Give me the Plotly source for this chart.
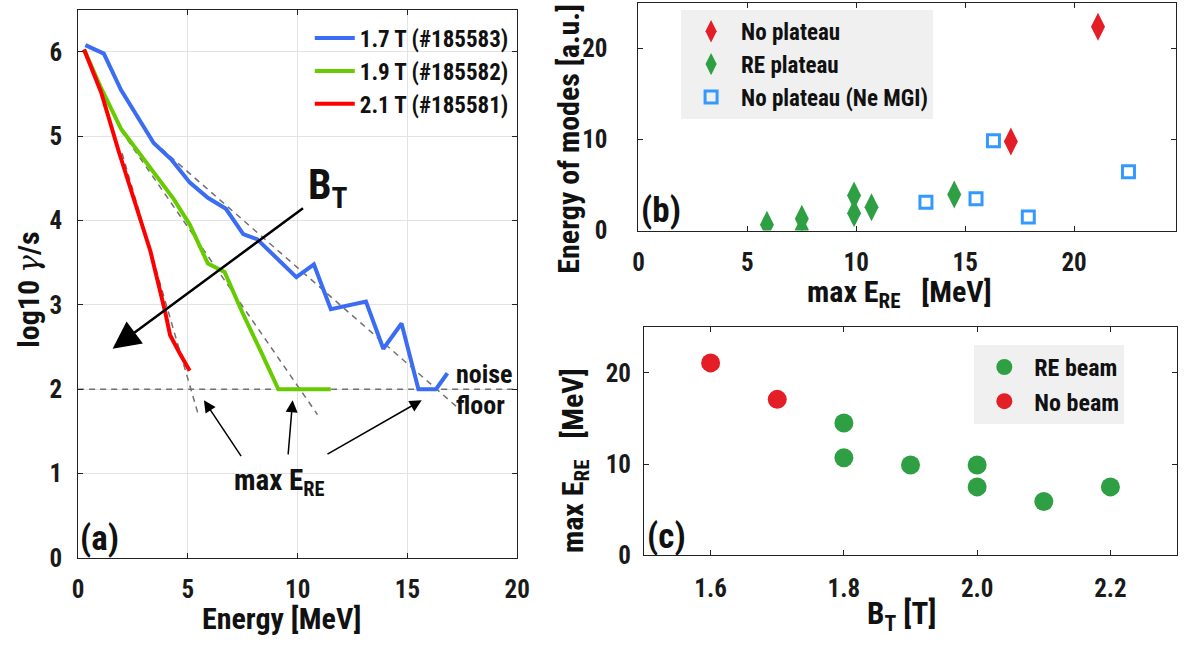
import plotly.graph_objects as go

W, H = 1194, 655
FONT = "Roboto Condensed"

# ---------------- Panel (a): growth-rate spectra ----------------
e_17 = [0.33, 1.17, 1.95, 2.69, 3.44, 4.26, 5.09, 5.91, 6.73, 7.52, 8.15, 9.94, 10.74, 11.51, 13.11, 13.90, 14.73, 15.50, 16.30, 16.82]
g_17 = [6.08, 5.98, 5.55, 5.23, 4.92, 4.72, 4.45, 4.27, 4.14, 3.84, 3.78, 3.33, 3.48, 2.95, 3.04, 2.48, 2.78, 2.00, 2.00, 2.19]

e_19 = [0.27, 1.05, 1.95, 2.77, 3.59, 4.34, 5.09, 5.91, 6.67, 7.48, 8.30, 9.12, 9.92, 10.72, 11.51]
g_19 = [6.03, 5.57, 5.09, 4.80, 4.51, 4.26, 3.95, 3.49, 3.39, 2.91, 2.46, 2.00, 2.00, 2.00, 2.00]

e_21 = [0.27, 1.05, 1.85, 2.60, 3.29, 3.97, 4.19, 4.62, 5.08]
g_21 = [6.03, 5.52, 4.82, 4.19, 3.64, 2.91, 2.64, 2.43, 2.22]

fit_e_17 = [3.8, 17.3]
fit_g_17 = [4.85, 1.78]
fit_e_19 = [1.95, 10.9]
fit_g_19 = [5.07, 1.70]
fit_e_21 = [2.0, 5.45]
fit_g_21 = [4.80, 1.72]
noise_e = [0, 20]
noise_g = [2, 2]

names_a = ["1.7 T (#185583)", "1.9 T (#185582)", "2.1 T (#185581)"]
colors_a = ["#3a6cf4", "#66cc00", "#ff0000"]

# ---------------- Panel (b): energy of modes vs max E_RE ----------------
nop_E = [17.1, 21.1]
nop_mode = [9.8, 22.4]
rep_E = [5.9, 7.5, 7.5, 9.9, 9.9, 10.7, 14.5]
rep_mode = [0.65, 1.3, 0.1, 3.87, 1.9, 2.58, 3.98]
ne_E = [13.2, 15.5, 16.3, 17.9, 22.5]
ne_mode = [3.12, 3.51, 9.89, 1.5, 6.48]

# ---------------- Panel (c): max E_RE vs B_T ----------------
beam_bt = [1.8, 1.8, 1.9, 2.0, 2.0, 2.1, 2.2]
beam_E = [14.5, 10.7, 9.9, 9.9, 7.5, 5.9, 7.5]
nobeam_bt = [1.6, 1.7]
nobeam_E = [21.1, 17.1]

RED = "#e41e26"
GREEN = "#2ea043"
BLUE = "#3399ff"
DASH = "#707070"
INK = "#111111"
NB = "\u00a0"

fig = go.Figure()

# dashed fits & noise floor (panel a)
for xs, ys in [(noise_e, noise_g), (fit_e_17, fit_g_17), (fit_e_19, fit_g_19), (fit_e_21, fit_g_21)]:
    fig.add_trace(go.Scatter(x=xs, y=ys, mode="lines", xaxis="x", yaxis="y",
                             line=dict(color=DASH, width=1.5, dash="6px,5px"),
                             showlegend=False, hoverinfo="skip"))

for xs, ys, nm, col in [(e_17, g_17, names_a[0], colors_a[0]),
                        (e_19, g_19, names_a[1], colors_a[1]),
                        (e_21, g_21, names_a[2], colors_a[2])]:
    fig.add_trace(go.Scatter(x=xs, y=ys, mode="lines", name=nm, xaxis="x", yaxis="y",
                             line=dict(color=col, width=4), legend="legend"))

# panel b
fig.add_trace(go.Scatter(x=nop_E, y=nop_mode, mode="markers", name="No plateau",
                         xaxis="x2", yaxis="y2", legend="legend2",
                         marker=dict(symbol="diamond-tall", size=20, color=RED, line=dict(width=0))))
fig.add_trace(go.Scatter(x=rep_E, y=rep_mode, mode="markers", name="RE plateau",
                         xaxis="x2", yaxis="y2", legend="legend2",
                         marker=dict(symbol="diamond-tall", size=20, color=GREEN, line=dict(width=0))))
fig.add_trace(go.Scatter(x=ne_E, y=ne_mode, mode="markers", name="No plateau (Ne MGI)",
                         xaxis="x2", yaxis="y2", legend="legend2",
                         marker=dict(symbol="square-open", size=12, color=BLUE, line=dict(width=3, color=BLUE))))

# panel c
fig.add_trace(go.Scatter(x=beam_bt, y=beam_E, mode="markers", name="RE beam",
                         xaxis="x3", yaxis="y3", legend="legend3",
                         marker=dict(symbol="circle", size=19, color=GREEN)))
fig.add_trace(go.Scatter(x=nobeam_bt, y=nobeam_E, mode="markers", name="No beam",
                         xaxis="x3", yaxis="y3", legend="legend3",
                         marker=dict(symbol="circle", size=19, color=RED)))

tickfont = dict(family=FONT, size=25, color="#1a1a1a", weight="bold")
common = dict(showline=True, linecolor="#222222", linewidth=1, mirror="ticks",
              ticks="inside", ticklen=5, tickcolor="#222222", tickfont=tickfont,
              zeroline=False)


def px(x):
    return x / W


def py(y):
    return 1 - y / H


fig.update_layout(
    width=W, height=H,
    margin=dict(l=0, r=0, t=0, b=0),
    paper_bgcolor="white", plot_bgcolor="white",
    font=dict(family=FONT, size=22, color=INK, weight="bold"),
    xaxis=dict(domain=[px(73.3), px(519.5)], range=[0, 20], tickvals=[0, 5, 10, 15, 20],
               showgrid=True, gridcolor="#e3e3e3", gridwidth=1, anchor="y",
               ticklabelstandoff=9, **common),
    yaxis=dict(domain=[py(571), py(10)], range=[0, 6.5], tickvals=[0, 1, 2, 3, 4, 5, 6],
               showgrid=True, gridcolor="#e3e3e3", gridwidth=1, anchor="x",
               ticklabelstandoff=10, **common),
    xaxis2=dict(domain=[px(642.7), px(1189.3)], range=[0, 24.7], tickvals=[0, 5, 10, 15, 20],
                showgrid=False, anchor="y2", ticklabelstandoff=9, **common),
    yaxis2=dict(domain=[py(236), py(3.3)], range=[0, 25], tickvals=[0, 10, 20],
                showgrid=False, anchor="x2", ticklabelstandoff=25, **common),
    xaxis3=dict(domain=[px(648.3), px(1190)], range=[1.5, 2.3], tickvals=[1.6, 1.8, 2.0, 2.2],
                ticktext=["1.6", "1.8", "2.0", "2.2"],
                showgrid=False, anchor="y3", ticklabelstandoff=11, **common),
    yaxis3=dict(domain=[py(568.3), py(335)], range=[0, 25], tickvals=[0, 10, 20],
                showgrid=False, anchor="x3", ticklabelstandoff=7, **common),
    legend=dict(x=px(516), y=py(17), xanchor="right", yanchor="top",
                bgcolor="rgba(0,0,0,0)", font=dict(family=FONT, size=23, color=INK, weight="bold"),
                itemwidth=40, tracegroupgap=0),
    legend2=dict(x=px(686), y=py(10), xanchor="left", yanchor="top",
                 bgcolor="#f0f0f0", font=dict(family=FONT, size=23, color=INK, weight="bold"),
                 itemwidth=50),
    legend3=dict(x=px(984), y=py(353), xanchor="left", yanchor="top",
                 bgcolor="#f0f0f0", font=dict(family=FONT, size=24, color=INK, weight="bold"),
                 itemwidth=50),
    showlegend=True,
)

ann = []


def label(text, x, y, size, angle=0, xanchor="center", yanchor="middle"):
    ann.append(dict(text=text, x=px(x), y=py(y), xref="paper", yref="paper", showarrow=False,
                    textangle=angle, xanchor=xanchor, yanchor=yanchor,
                    font=dict(family=FONT, size=size, color=INK, weight="bold")))


# axis titles
label('log10 <span style="font-weight:normal;font-family:DejaVu Serif"><i>γ</i></span>/s', 23, 297, 30, angle=-90)
label("Energy [MeV]", 280, 633, 30)
label("Energy of modes [a.u.]", 572, 142, 30, angle=-90)
label("max E<sub>RE</sub>" + NB * 3 + "[MeV]", 908, 300, 30)
label("max E<sub>RE</sub>" + NB * 3 + "[MeV]", 577, 471, 30, angle=-90)
label("B<sub>T</sub> [T]", 910, 630, 31)

# panel labels
label("(a)", 95, 551, 35)
label("(b)", 666, 215, 35)
label("(c)", 671, 549, 35)

# annotations in (a)
label("B<sub>T</sub>", 305, 192, 42, xanchor="left")
label("max E<sub>RE</sub>", 230, 493, 29, xanchor="left")
label("noise", 455, 383, 26, xanchor="left")
label("floor", 455, 415, 26, xanchor="left")

# arrows (data coordinates of panel a)
arrows_head = [(1.57, 2.48), (5.73, 1.87), (9.77, 1.87), (15.65, 1.87)]
arrows_tail = [(10.31, 4.16), (7.47, 1.19), (9.56, 1.21), (11.29, 1.22)]
for i, ((hx, hy), (tx, ty)) in enumerate(zip(arrows_head, arrows_tail)):
    big = i == 0
    ann.append(dict(x=hx, y=hy, ax=tx, ay=ty, xref="x", yref="y", axref="x", ayref="y",
                    text="", showarrow=True, arrowhead=2,
                    arrowsize=2.2 if big else 1.6, arrowwidth=2.5 if big else 1.5,
                    arrowcolor="black", standoff=0, startstandoff=0))

fig.update_layout(annotations=ann)
fig.write_html("out.html")
